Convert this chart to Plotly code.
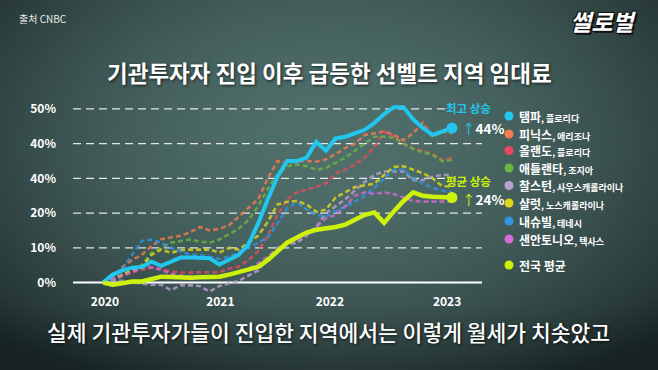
import math, zlib, struct, base64
import plotly.graph_objects as go

# ---------------- data ----------------
months = list(range(0, 37))  # months since Jan 2020
year_labels = ["2020", "2021", "2022", "2023"]
year_ticks = [0.2, 12.1, 23.4, 35.5]

y_ticks = [0, 10, 20, 30, 40, 50]
y_ticktext = ["0%", "10%", "20%", "40%", "40%", "50%"]

tampa = [0, 2.3, 3.5, 4.3, 4.5, 6, 4.8, 6, 7.2, 7.2, 7.2, 7, 5.2, 6.5, 8, 11, 17, 24, 30.5, 35,
         35, 36, 40.5, 38, 41.5, 42, 43, 44, 46, 48.5, 50.5, 50.5, 47, 44.5, 42.5, 43.5, 44.5]
phoenix = [0, 1.5, 4.5, 6.5, 8, 10.5, 12.5, 13, 13.5, 14.5, 16, 15, 15.5, 16.5, 19, 21.5, 24, 30, 35, 34.5,
           35, 35, 34.8, 35.5, 37, 38.8, 40, 42.5, 43, 43.5, 42.5, 41, 43, 46, 42, 43.5, 43]
orlando = [0, 1, 2, 3, 3.7, 4.3, 4, 3.2, 2.9, 2.9, 2.9, 2.9, 3, 4, 4.6, 6.5, 9, 13.5, 19.5, 24,
           26, 26.7, 27.5, 28.5, 31.5, 32.5, 34, 36, 39, 43.5, 42, 40, 38.5, 38, 37, 35.3, 36]
atlanta = [0, 0.5, 2, 4, 5, 8.6, 10, 11.5, 12, 12.4, 11.8, 11.5, 12.4, 14, 15.5, 18, 22, 27, 31, 33.5,
           34, 33.5, 32.5, 33, 34.5, 36, 38, 40, 42, 42, 41.7, 40, 38.5, 37.5, 36.8, 35, 35.3]
charleston = [0, 0.5, 0.5, 0, -0.3, -0.6, -0.6, -2.2, -0.8, -0.8, -1, -2.6, -1, -0.2, 0.5, 2, 3.5, 7, 10, 11,
              11.5, 13.5, 16, 20, 22, 24, 26.5, 29, 31, 32, 32, 32, 29.5, 29.5, 30.5, 31, 31]
charlotte = [0, 1, 2.3, 3.5, 4.5, 8, 9.5, 8.6, 9.3, 9.5, 9.5, 9.5, 8.6, 10, 9.5, 11.5, 13.5, 17.5, 22.5, 23.3,
             23.5, 22.5, 20.4, 21, 24.5, 26, 27.5, 28, 28.5, 31, 33.3, 33.5, 32.5, 31.5, 30, 27.8, 27.6]
nashville = [0, 1, 4, 8, 12, 12.4, 11.5, 10, 9, 8, 8, 7.5, 6.8, 7.5, 8.6, 10, 11.5, 13, 17, 21.5,
             23, 21, 19.5, 19, 20.5, 21.8, 23.3, 25, 27.3, 30, 32.5, 32.5, 30, 28.5, 27.3, 26.5, 26]
san_antonio = [0, 1, 2, 3, 4.5, 4.3, 3.7, 2.5, 2, 1.7, 1.5, 1.5, 2, 2.5, 3, 4, 5.5, 7.5, 9.5, 11,
               12.5, 14, 16, 18.5, 19.5, 22, 25, 26, 25.5, 26, 25.5, 24.5, 23.5, 23.3, 23.3, 23.3, 23.3]
national = [0, -0.6, -0.2, 0.3, 0.3, 1, 1.7, 1.6, 1.4, 1.4, 1.5, 1.6, 1.7, 2.3, 3, 3.8, 4.5, 6.5, 9, 11.5,
            13, 14.4, 15.2, 15.5, 16, 16.7, 18, 19.5, 20.2, 17.2, 20.5, 23.5, 26, 25, 24.7, 24.5, 24.5]

city_names = ["탬파", "피닉스", "올랜도", "애틀랜타", "찰스턴", "샬럿", "내슈빌", "샌안토니오"]
city_states = ["플로리다", "애리조나", "플로리다", "조지아", "사우스캐롤라이나", "노스캐롤라이나", "테네시", "텍사스"]
national_name = "전국 평균"

title_text = "기관투자자 진입 이후 급등한 선벨트 지역 임대료"
subtitle_text = "실제 기관투자가들이 진입한 지역에서는 이렇게 월세가 치솟았고"
source_text = "출처 CNBC"
logo_text = "썰로벌"
top_label = "최고 상승"
avg_label = "평균 상승"

# ---------------- style ----------------
FONT = "Noto Sans CJK KR"
C_TAMPA = "#22c6ee"
C_NAT = "#cdf20a"
dash_colors = ["#f07c50", "#e84a5c", "#6cb444", "#b9a0d0", "#dcd81e", "#3294e2", "#d46ad6"]
legend_colors = [C_TAMPA] + dash_colors

W, H = 658, 370
L, R, T, B = 73, 176, 102, 77
PW, PH = W - L - R, H - T - B


def px2x(px):
    return (px - L) / PW


def py2y(py):
    return 1 - (py - T) / PH


# background vignette image (generated)
def make_bg(w, h):
    c0 = (80, 111, 107)
    c1 = (24, 36, 36)
    rows = []
    for j in range(h):
        row = bytearray([0])
        v = j / (h - 1)
        for i in range(w):
            u = i / (w - 1)
            d = math.hypot((u - 0.5) / 0.72, (v - 0.38) / 0.85)
            t = min(1.0, d) ** 1.8
            if v > 0.82:
                t = min(1.0, t + (v - 0.82) * 0.9)
            row += bytes(int(c0[k] * (1 - t) + c1[k] * t) for k in range(3))
        rows.append(bytes(row))
    raw = b"".join(rows)

    def chunk(tag, data):
        return struct.pack(">I", len(data)) + tag + data + struct.pack(">I", zlib.crc32(tag + data) & 0xffffffff)

    png = (b"\x89PNG\r\n\x1a\n" + chunk(b"IHDR", struct.pack(">IIBBBBB", w, h, 8, 2, 0, 0, 0))
           + chunk(b"IDAT", zlib.compress(raw, 9)) + chunk(b"IEND", b""))
    return "data:image/png;base64," + base64.b64encode(png).decode()


fig = go.Figure()

dashed_series = [phoenix, orlando, atlanta, charleston, charlotte, nashville, san_antonio]
for name, vals, col in zip(city_names[1:], dashed_series, dash_colors):
    fig.add_trace(go.Scatter(x=months, y=vals, mode="lines", name=name,
                             line=dict(color=col, width=2.6, dash="5px,3px"), opacity=0.8))

fig.add_trace(go.Scatter(x=months, y=tampa, mode="lines", name=city_names[0],
                         line=dict(color=C_TAMPA, width=4)))
fig.add_trace(go.Scatter(x=months, y=national, mode="lines", name=national_name,
                         line=dict(color=C_NAT, width=4.5)))
fig.add_trace(go.Scatter(x=[months[-1]], y=[tampa[-1]], mode="markers",
                         marker=dict(color=C_TAMPA, size=11)))
fig.add_trace(go.Scatter(x=[months[-1]], y=[national[-1]], mode="markers",
                         marker=dict(color=C_NAT, size=11)))

# grid lines as shapes
shapes = []
for v in y_ticks:
    x_end = 0.914 if v in (30, 50) else 1.0
    shapes.append(dict(type="line", xref="paper", yref="y", x0=0, x1=x_end, y0=v, y1=v,
                       line=dict(color="rgba(255,255,255,0.85)" if v else "white",
                                 width=1.3 if v else 2, dash="8px,5px" if v else "solid"),
                       layer="below"))

# legend dots
legend_rows = [116, 134, 150.5, 168, 185.5, 203, 221, 239]
for py, col in zip(legend_rows, legend_colors):
    shapes.append(dict(type="circle", xref="paper", yref="paper",
                       x0=px2x(504.5), x1=px2x(513.5), y0=py2y(py + 4.5), y1=py2y(py - 4.5),
                       fillcolor=col, line=dict(width=0)))
shapes.append(dict(type="circle", xref="paper", yref="paper",
                   x0=px2x(504.5), x1=px2x(513.5), y0=py2y(265 + 4.5), y1=py2y(265 - 4.5),
                   fillcolor=C_NAT, line=dict(width=0)))


def note(px, py, text, xanchor="center", **font):
    f = dict(family=FONT, color="white")
    f.update(font)
    return dict(x=px2x(px), y=py2y(py), xref="paper", yref="paper", xanchor=xanchor,
                yanchor="middle", showarrow=False, text=text, font=f)


ann = []
for py, nm, st in zip(legend_rows, city_names, city_states):
    ann.append(note(517, py, f"<b>{nm}</b><span style='font-size:9px'><b>, {st}</b></span>",
                    xanchor="left", size=12))
ann.append(note(517, 265, f"<b>{national_name}</b>", xanchor="left", size=12))

# chart annotations
ann.append(note(468, 108, f"<b>{top_label}</b>", size=11.5, color=C_TAMPA))
ann.append(note(460, 128, f"<span style='color:{C_TAMPA}'>↑</span><b>{int(tampa[-1])}%</b>",
                xanchor="left", size=13.5))
ann.append(note(468, 181, f"<b>{avg_label}</b>", size=11.5, color=C_NAT))
ann.append(note(460, 199, f"<span style='color:{C_NAT}'>↑</span><b>{int(national[-1])}%</b>",
                xanchor="left", size=13.5))

# titles / texts
ann.append(note(329, 72, f"<b>{title_text}</b>", size=22.5,
                shadow="1px 1px 3px rgba(0,0,0,0.7)"))
ann.append(note(328, 331, subtitle_text, size=21.5, weight=500,
                shadow="1px 1px 3px rgba(0,0,0,0.7)"))
ann.append(note(17, 18, source_text, xanchor="left", size=10, color="#e8ecec"))
ann.append(note(603, 21, f"<b>{logo_text}</b>", size=23, style="italic", weight=900,
                shadow="2px 2px 0px #111, -1px -1px 0px #111, 1px -1px 0px #111, -1px 1px 0px #111"))

fig.update_layout(
    width=W, height=H,
    margin=dict(l=L, r=R, t=T, b=B),
    paper_bgcolor="#304646",
    plot_bgcolor="rgba(0,0,0,0)",
    showlegend=False,
    hovermode=False,
    shapes=shapes,
    annotations=ann,
    images=[dict(source=make_bg(132, 74), xref="paper", yref="paper",
                 x=-L / PW, y=1 + T / PH, sizex=W / PW, sizey=H / PH,
                 xanchor="left", yanchor="top", sizing="stretch", layer="below")],
    xaxis=dict(range=[-3.1, 39.1], showgrid=False, zeroline=False, showline=False,
               tickvals=year_ticks, ticktext=year_labels, ticks="",
               tickfont=dict(family=FONT, size=12, color="white", weight="bold"),
               ticklabelstandoff=0),
    yaxis=dict(range=[-3, 52], showgrid=False, zeroline=False, showline=False,
               tickvals=y_ticks, ticktext=y_ticktext, ticks="",
               tickfont=dict(family=FONT, size=12, color="white", weight="bold"),
               ticklabelstandoff=16),
)

fig.write_html("out.html", config={"displayModeBar": False},
               post_script="document.body.style.margin='0';document.body.style.overflow='hidden';")
